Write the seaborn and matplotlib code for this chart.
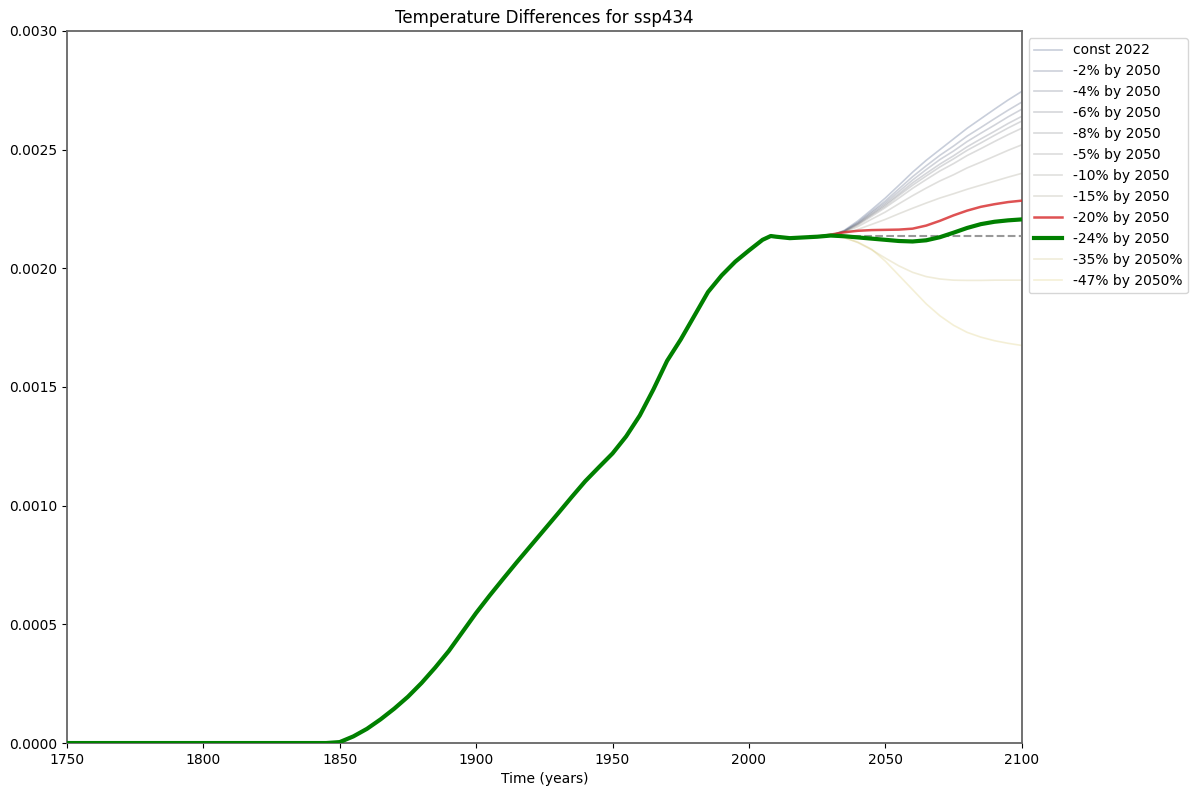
import numpy as np
import pandas as pd
import matplotlib
matplotlib.use("Agg")
import matplotlib.pyplot as plt
import seaborn as sns
from matplotlib.ticker import FormatStrFormatter

# ---------------- data ----------------
hist_years = [1750, 1800, 1845, 1850, 1855, 1860, 1865, 1870, 1875, 1880, 1885, 1890, 1895,
              1900, 1905, 1910, 1915, 1920, 1925, 1930, 1935, 1940, 1945, 1950, 1955,
              1960, 1965, 1970, 1975, 1980, 1985, 1990, 1995, 2000, 2005, 2008, 2010,
              2015, 2020, 2025]
hist_values = [0.0, 0.0, 0.0, 0.000004, 0.000028, 0.00006, 0.0001, 0.000145, 0.000195,
               0.000253, 0.000318, 0.000388, 0.000468, 0.000548, 0.000622, 0.000693,
               0.000763, 0.000831, 0.000899, 0.000967, 0.001036, 0.001103, 0.001162,
               0.00122, 0.001292, 0.00138, 0.00149, 0.00161, 0.0017, 0.0018, 0.0019,
               0.00197, 0.002028, 0.002075, 0.00212, 0.002136, 0.002133, 0.002127,
               0.00213, 0.002133]

future_years = [2030, 2035, 2040, 2045, 2050, 2055, 2060, 2065, 2070, 2075, 2080,
                2085, 2090, 2095, 2100]

scenario_names = ["const 2022", "-2% by 2050", "-4% by 2050", "-6% by 2050",
                  "-8% by 2050", "-5% by 2050", "-10% by 2050", "-15% by 2050",
                  "-20% by 2050", "-24% by 2050", "-35% by 2050%", "-47% by 2050%"]

const_2022 = [0.002138, 0.00216, 0.0022, 0.002247, 0.002296, 0.00235, 0.002405, 0.002455,
              0.0025, 0.002545, 0.00259, 0.00263, 0.00267, 0.002709, 0.002745]
cut_2 = [0.002138, 0.002158, 0.002194, 0.002239, 0.002284, 0.002335, 0.002386, 0.002432,
         0.002476, 0.002515, 0.002557, 0.002593, 0.00263, 0.002666, 0.0027]
cut_4 = [0.002138, 0.002157, 0.002191, 0.002234, 0.002276, 0.002324, 0.002372, 0.002416,
         0.002458, 0.002494, 0.002534, 0.002569, 0.002603, 0.002638, 0.00267]
cut_6 = [0.002138, 0.002156, 0.002188, 0.002228, 0.002269, 0.002314, 0.00236, 0.0024,
         0.002439, 0.002474, 0.002512, 0.002545, 0.002577, 0.00261, 0.00264]
cut_8 = [0.002138, 0.002155, 0.002186, 0.002225, 0.002263, 0.002307, 0.00235, 0.002389,
         0.002427, 0.002461, 0.002497, 0.002528, 0.00256, 0.002591, 0.00262]
cut_5 = [0.002138, 0.002154, 0.002183, 0.002219, 0.002256, 0.002296, 0.002337, 0.002374,
         0.00241, 0.002441, 0.002475, 0.002504, 0.002534, 0.002563, 0.00259]
cut_10 = [0.002138, 0.002152, 0.002176, 0.002207, 0.002237, 0.002272, 0.002306, 0.002338,
          0.002368, 0.002394, 0.002423, 0.002447, 0.002472, 0.002497, 0.00252]
cut_15 = [0.002138, 0.002147, 0.002164, 0.002185, 0.002206, 0.00223, 0.002253, 0.002275,
          0.002296, 0.002314, 0.002333, 0.00235, 0.002367, 0.002384, 0.0024]
cut_20 = [0.002142, 0.002152, 0.002158, 0.002161, 0.002162, 0.002163, 0.002167, 0.00218,
          0.0022, 0.002223, 0.002243, 0.002259, 0.00227, 0.002279, 0.002285]
cut_24 = [0.002138, 0.002135, 0.00213, 0.002125, 0.00212, 0.002115, 0.002113, 0.002118,
          0.002131, 0.00215, 0.00217, 0.002186, 0.002196, 0.002202, 0.002206]
cut_35 = [0.002138, 0.00213, 0.002108, 0.002078, 0.002043, 0.00201, 0.001983, 0.001965,
          0.001955, 0.00195, 0.001949, 0.001949, 0.00195, 0.00195, 0.00195]
cut_47 = [0.002138, 0.002128, 0.00211, 0.00208, 0.00203, 0.00197, 0.00191, 0.00185,
          0.0018, 0.00176, 0.00173, 0.00171, 0.001695, 0.001684, 0.001675]

scenario_values = [const_2022, cut_2, cut_4, cut_6, cut_8, cut_5, cut_10, cut_15,
                   cut_20, cut_24, cut_35, cut_47]

baseline_years = [2022, 2100]
baseline_value = 0.002136

# ---------------- build table ----------------
rows = []
for name, fut in zip(scenario_names, scenario_values):
    for y, v in zip(hist_years + future_years, hist_values + fut):
        rows.append({"year": y, "value": v, "scenario": name})
df = pd.DataFrame(rows)

# ---------------- plot ----------------
fig = plt.figure(figsize=(11.95, 7.93), dpi=100)
ax = fig.add_axes([0.056, 0.063, 0.799, 0.898])

cmap = plt.get_cmap("cividis")
n = len(scenario_names)
for i, name in enumerate(scenario_names):
    sub = df[df["scenario"] == name]
    if name == "-20% by 2050":
        kw = dict(color="#d62728", alpha=0.8, linewidth=1.8, zorder=4)
    elif name == "-24% by 2050":
        kw = dict(color="green", alpha=1.0, linewidth=3.0, zorder=5)
    else:
        kw = dict(color=cmap(0.15 + 0.7 * i / (n - 1)), alpha=0.25, linewidth=1.2, zorder=2)
    sns.lineplot(data=sub, x="year", y="value", ax=ax, label=name,
                 estimator=None, sort=True, **kw)

ax.plot(baseline_years, [baseline_value, baseline_value], linestyle="--",
        color="grey", linewidth=1.5, alpha=0.8, zorder=3)

ax.set_xlim(1750, 2100)
ax.set_ylim(0, 0.003)
ax.set_xticks(np.arange(1750, 2101, 50))
ax.set_yticks(np.arange(0, 0.00301, 0.0005))
ax.yaxis.set_major_formatter(FormatStrFormatter("%.4f"))
ax.tick_params(labelsize=10)
ax.set_xlabel("Time (years)", fontsize=10)
ax.set_ylabel("")
ax.set_title("Temperature Differences for ssp434", fontsize=12)
for s in ax.spines.values():
    s.set_color("#666666")
    s.set_linewidth(1.3)

ax.legend(loc="upper left", bbox_to_anchor=(1.0, 1.0), fontsize=10, frameon=True,
          labelspacing=0.5)

fig.savefig("out.png", dpi=100)
